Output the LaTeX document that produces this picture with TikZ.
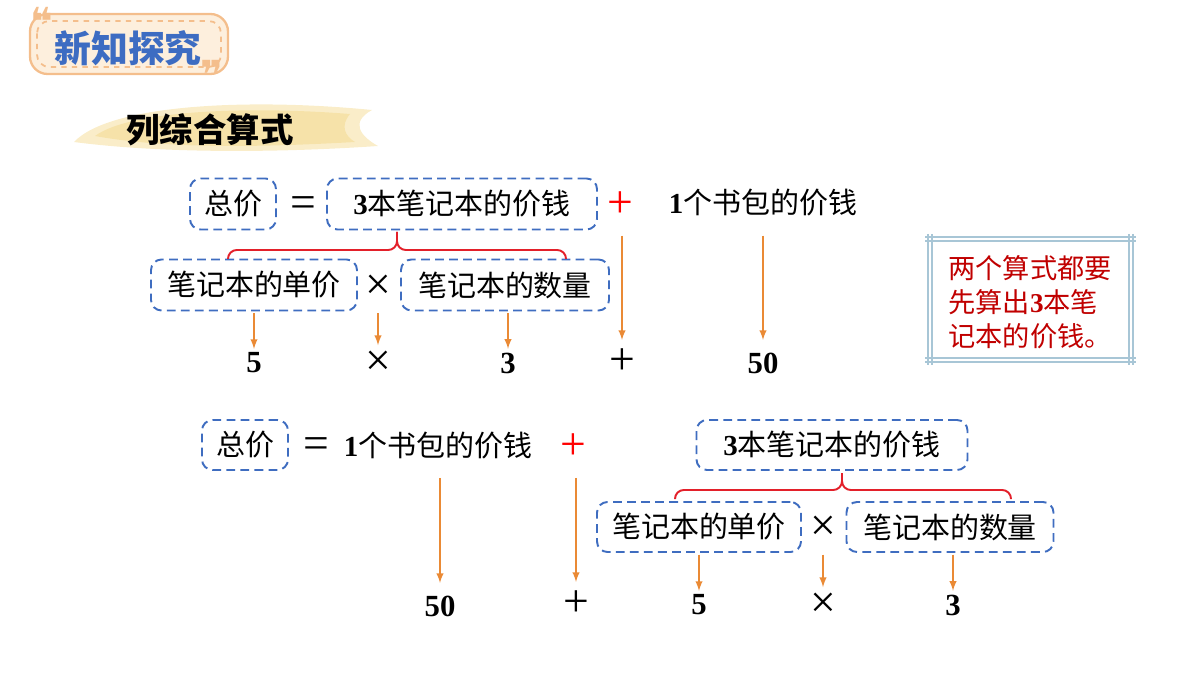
\documentclass[tikz,border=0pt]{standalone}
\usepackage{fontspec}
\setmainfont{Liberation Serif}
\newfontfamily\cjk{Noto Sans CJK SC}
\newfontfamily\dejavu{DejaVu Sans}
\usetikzlibrary{calc}

\definecolor{boxblue}{HTML}{3F6DC0}
\definecolor{arrorange}{HTML}{EA8A35}
\definecolor{bracered}{HTML}{E3202A}
\definecolor{notered}{HTML}{C00000}
\definecolor{frameblue}{HTML}{A8C6D6}
\definecolor{badgefill}{HTML}{FDEFDD}
\definecolor{badgeline}{HTML}{F4BE8C}
\definecolor{brushyellow}{HTML}{F5DE9C}
\definecolor{titleblue}{HTML}{3D6CC2}

\def\px{0.02cm}
\newcommand\bodyfont{\fontsize{16.5}{19}\selectfont}

\tikzset{
  box/.style={draw=boxblue, dashed, dash pattern=on 5pt off 3pt, line width=1.1pt,
    rounded corners=6pt, inner sep=0pt, minimum height=51*\px, font=\bodyfont},
  word/.style={inner sep=0pt, font=\bodyfont},
  sym/.style={inner sep=0pt, font=\fontsize{26}{28}\selectfont},
  num/.style={inner sep=0pt, font=\fontsize{17.5}{20}\selectfont\bfseries},
  arr/.style={->, >=latex, color=arrorange, line width=0.9pt},
  brace/.style={color=bracered, line width=1.1pt, rounded corners=5pt},
  frame/.style={color=frameblue, line width=0.9pt},
  quote/.style={inner sep=0pt, color=badgeline, font=\fontsize{22}{22}\selectfont\dejavu\bfseries}
}

\begin{document}
\begin{tikzpicture}[x = 0.02cm, y = -0.02cm]
  \useasboundingbox (0,0) rectangle (1200,675);

  % badge
  \fill[badgefill, rounded corners=10pt] (30,14) rectangle (228,74);
  \draw[badgeline, line width=1.3pt, rounded corners=10pt] (30,14) rectangle (228,74);
  \draw[badgeline, dashed, line width=1pt, rounded corners=7pt] (37,21) rectangle (221,67);
  \node[inner sep=0pt, color=titleblue, font=\fontsize{21}{24}\selectfont\cjk\bfseries]
  (title) at (128,48) {新知探究};
  \node[quote] (quoteA) at (42,21) {❝};
  \node[quote] (quoteB) at (212,74) {❞};

  % brush
  \fill[brushyellow, opacity=0.55] (74,142) .. controls (110,104) and (250,98) .. (372,110)
  .. controls (350,122) and (360,136) .. (378,146) .. controls (260,154) and (150,152) .. cycle;
  \fill[brushyellow, opacity=0.7] (95,136) .. controls (130,110) and (250,106) .. (350,114)
  .. controls (340,126) and (345,136) .. (355,142) .. controls (250,148) and (160,148) .. cycle;
  \node[inner sep=0pt, font=\fontsize{19}{22}\selectfont\cjk\bfseries]
  (sub) at (210,130) {列综合算式};

  % first way
  \node[box, minimum width=86*\px] (totA) at (233,204) {\cjk 总价};
  \node[sym] (eqA) at (303,207) {=};
  \node[box, minimum width=270*\px] (costA) at (462,204) {\textbf{3}\cjk 本笔记本的价钱};
  \node[sym, color=red] (plusA) at (620,205) {+};
  \node[word] (bagA) at (763,203) {\textbf{1}\cjk 个书包的价钱};

  \node[box, minimum width=206*\px] (unitA) at (254,285) {\cjk 笔记本的单价};
  \node[sym] (timesA) at (378,287) {×};
  \node[box, minimum width=208*\px] (qtyA) at (505,285) {\cjk 笔记本的数量};

  \node[num] (fiveA) at (254,363) {5};
  \node[sym] (timesB) at (378,363) {×};
  \node[num] (threeA) at (508,363) {3};
  \node[sym] (plusB) at (622,362) {+};
  \node[num] (fiftyA) at (763,363) {50};

  \draw[brace] (228,259) |- (397,250) -- (397,232);
  \draw[brace] (566,259) |- (397,250) -- (397,232);

  \draw[arr, shorten <=1pt, shorten >=2pt] (unitA.south -| fiveA) -- (fiveA.north);
  \draw[arr, shorten <=1pt, shorten >=3pt] (unitA.south -| timesB) -- (timesB.north);
  \draw[arr, shorten <=1pt, shorten >=2pt] (qtyA.south -| threeA) -- (threeA.north);
  \draw[arr, shorten <=3pt, shorten >=5pt] (costA.south -| plusB) -- (plusB.north);
  \draw[arr, shorten <=3pt, shorten >=7pt] (costA.south -| fiftyA) -- (fiftyA.north);

  % second way
  \node[box, minimum width=86*\px, minimum height=50*\px] (totB) at (245,445) {\cjk 总价};
  \node[sym] (eqB) at (316,448) {=};
  \node[word] (bagB) at (438,446) {\textbf{1}\cjk 个书包的价钱};
  \node[sym, color=red] (plusC) at (573,447) {+};
  \node[box, minimum width=271*\px, minimum height=50*\px] (costB) at (832,445)
  {\textbf{3}\cjk 本笔记本的价钱};

  \node[box, minimum width=204*\px, minimum height=50*\px] (unitB) at (699,527) {\cjk 笔记本的单价};
  \node[sym] (timesC) at (823,528) {×};
  \node[box, minimum width=207*\px, minimum height=50*\px] (qtyB) at (950,527) {\cjk 笔记本的数量};

  \node[num] (fiftyB) at (440,606) {50};
  \node[sym] (plusD) at (576,604) {+};
  \node[num] (fiveB) at (699,605) {5};
  \node[sym] (timesD) at (823,605) {×};
  \node[num] (threeB) at (953,605) {3};

  \draw[brace] (675,499) |- (842,490) -- (842,473);
  \draw[brace] (1011,499) |- (842,490) -- (842,473);

  \draw[arr, shorten <=4pt, shorten >=7pt] (totB.south -| fiftyB) -- (fiftyB.north);
  \draw[arr, shorten <=4pt, shorten >=5pt] (totB.south -| plusD) -- (plusD.north);
  \draw[arr, shorten <=1pt, shorten >=2pt] (unitB.south -| fiveB) -- (fiveB.north);
  \draw[arr, shorten <=1pt, shorten >=3pt] (unitB.south -| timesD) -- (timesD.north);
  \draw[arr, shorten <=1pt, shorten >=2pt] (qtyB.south -| threeB) -- (threeB.north);

  % note
  \node[inner sep=0pt, align=left, color=notered, font=\fontsize{15.5}{19.5}\selectfont\cjk]
  (note) at (1030,302) {两个算式都要\\先算出\textbf{\rmfamily 3}本笔\\记本的价钱。};
  \foreach \o in {0,4}
  {
  \draw[frame] (925,237+\o) -- (1136,237+\o);
  \draw[frame] (925,362-\o) -- (1136,362-\o);
  \draw[frame] (928+\o,234) -- (928+\o,365);
  \draw[frame] (1133-\o,234) -- (1133-\o,365);
  }
\end{tikzpicture}
\end{document}
